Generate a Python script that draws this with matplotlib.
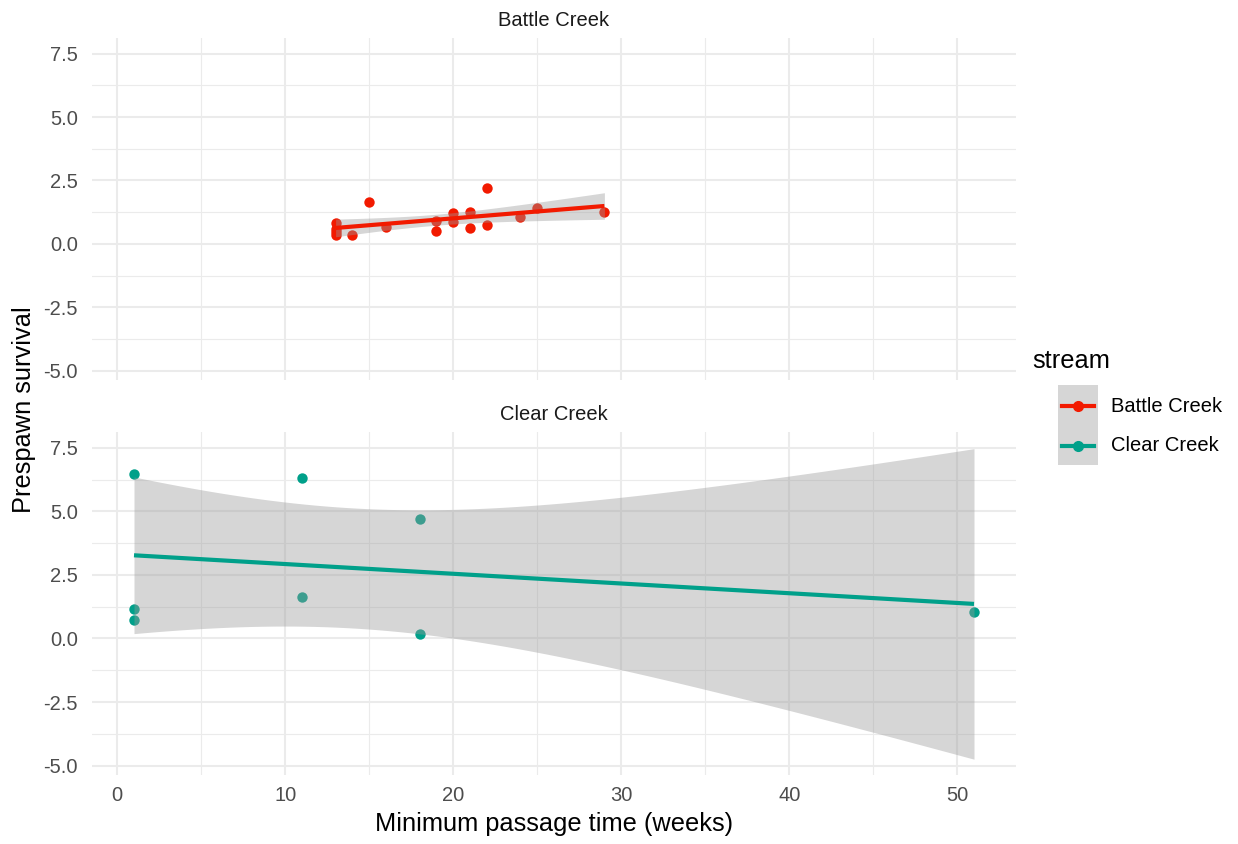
import numpy as np
import matplotlib
matplotlib.use("Agg")
import matplotlib.pyplot as plt
from matplotlib.lines import Line2D
from matplotlib.patches import Rectangle

plt.rcParams["font.family"] = ["Liberation Sans", "DejaVu Sans"]

# data
battle_x = [13, 13, 13, 13, 14, 15, 16, 19, 19, 20, 20, 21, 21, 22, 22, 24, 25, 29]
battle_y = [0.84, 0.58, 0.45, 0.33, 0.33, 1.64, 0.68, 0.92, 0.52, 1.21, 0.88,
            1.27, 0.62, 2.19, 0.75, 1.07, 1.43, 1.27]
clear_x = [1, 1, 1, 11, 11, 18, 18, 51]
clear_y = [6.45, 1.15, 0.72, 6.3, 1.65, 4.7, 0.17, 1.05]

streams = ["Battle Creek", "Clear Creek"]
colors = {"Battle Creek": "#F21A00", "Clear Creek": "#00A08A"}
data = {"Battle Creek": (battle_x, battle_y), "Clear Creek": (clear_x, clear_y)}

# 97.5% t quantiles for the confidence band
t_975 = {6: 2.4469, 16: 2.1199}


def lm_band(x, y, n_pts=80):
    x = np.asarray(x, float)
    y = np.asarray(y, float)
    n = len(x)
    xm = x.mean()
    sxx = np.sum((x - xm) ** 2)
    b = np.sum((x - xm) * (y - y.mean())) / sxx
    a = y.mean() - b * xm
    s = np.sqrt(np.sum((y - a - b * x) ** 2) / (n - 2))
    xs = np.linspace(x.min(), x.max(), n_pts)
    fit = a + b * xs
    se = s * np.sqrt(1 / n + (xs - xm) ** 2 / sxx)
    t = t_975[n - 2]
    return xs, fit, fit - t * se, fit + t * se


small = 14.5
big = 18.3

fig = plt.figure(figsize=(12.38, 8.44), dpi=100)
W, H = 1238, 844
left, right = 92 / W, 1016 / W
panels = [(38, 380), (432, 775)]

axes = []
for i, stream in enumerate(streams):
    top, bot = panels[i]
    ax = fig.add_axes([left, 1 - bot / H, right - left, (bot - top) / H])
    axes.append(ax)
    x, y = data[stream]
    c = colors[stream]
    ax.scatter(x, y, s=56, color=c, zorder=3, linewidths=0)
    xs, fit, lo, hi = lm_band(x, y)
    ax.fill_between(xs, lo, hi, color="#999999", alpha=0.4, linewidth=0, zorder=4)
    ax.plot(xs, fit, color=c, lw=3, zorder=5, solid_capstyle="butt")

    ax.set_xlim(-1.5, 53.5)
    ax.set_ylim(-5.37, 8.12)
    ax.set_xticks([0, 10, 20, 30, 40, 50])
    ax.set_xticks([5, 15, 25, 35, 45], minor=True)
    ax.set_yticks([-5, -2.5, 0, 2.5, 5, 7.5])
    ax.set_yticks([-3.75, -1.25, 1.25, 3.75, 6.25], minor=True)
    ax.set_yticklabels(["-5.0", "-2.5", "0.0", "2.5", "5.0", "7.5"])
    ax.grid(which="major", color="#EBEBEB", lw=1.5, zorder=0)
    ax.grid(which="minor", color="#EBEBEB", lw=0.8, zorder=0)
    ax.set_axisbelow(True)
    for sp in ax.spines.values():
        sp.set_visible(False)
    ax.tick_params(which="both", length=0, labelsize=small, labelcolor="#4D4D4D")
    ax.tick_params(axis="y", pad=10)
    ax.tick_params(axis="x", pad=8)
    ax.set_title(stream, fontsize=small, color="#1A1A1A", pad=8.6)

axes[0].tick_params(labelbottom=False)
axes[1].set_xlabel("Minimum passage time (weeks)", fontsize=big, labelpad=5)
fig.text(24 / W, 1 - 410 / H, "Prespawn survival", rotation=90, fontsize=big,
         ha="center", va="center")

# legend drawn by hand: gray ribbon behind the keys
fig.text(1032 / W, 1 - 361 / H, "stream", fontsize=big, ha="left", va="center")
fig.patches.append(Rectangle((1058 / W, 1 - 465 / H), 40 / W, 80 / H,
                             transform=fig.transFigure, facecolor="#D6D6D6",
                             edgecolor="none"))
for j, stream in enumerate(streams):
    yk = 1 - (406 + 40 * j) / H
    fig.lines.append(Line2D([1062 / W, 1094 / W], [yk, yk], transform=fig.transFigure,
                            color=colors[stream], lw=3))
    fig.lines.append(Line2D([1078 / W], [yk], transform=fig.transFigure,
                            color=colors[stream], marker="o", markersize=7, lw=0))
    fig.text(1111 / W, yk, stream, fontsize=small, ha="left", va="center")

fig.savefig("out.png", dpi=100, facecolor="white")
